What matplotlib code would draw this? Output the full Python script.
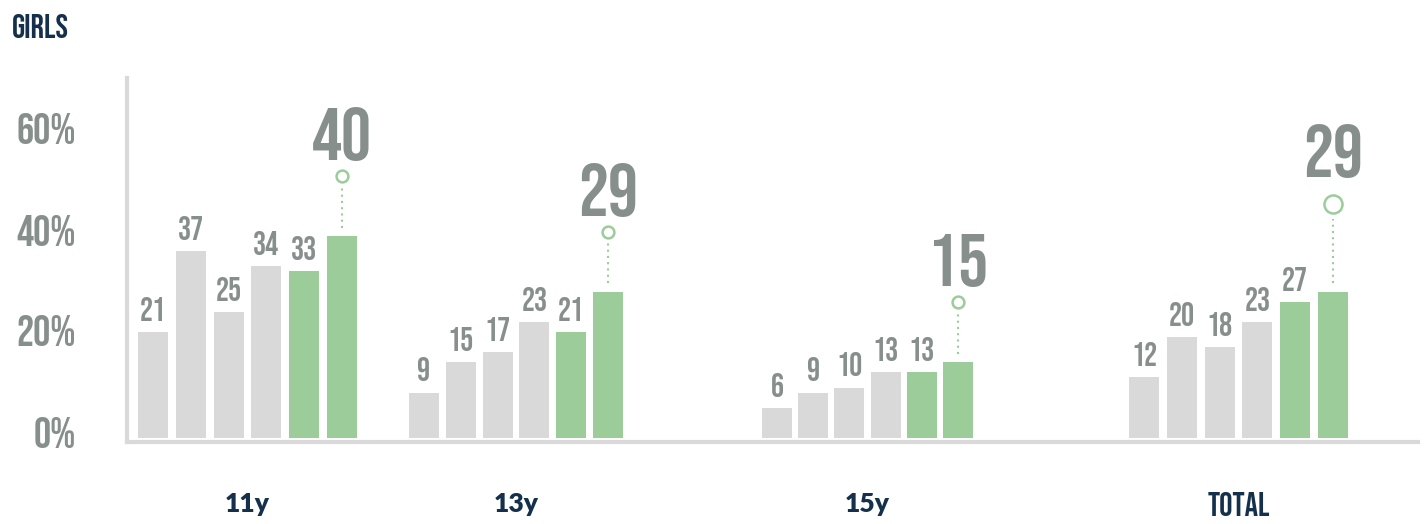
import matplotlib.pyplot as plt
import matplotlib.transforms as mtransforms
import numpy as np

groups = ['11y', '13y', '15y', 'TOTAL']
values = [
    [21, 37, 25, 34, 33, 40],
    [9, 15, 17, 23, 21, 29],
    [6, 9, 10, 13, 13, 15],
    [12, 20, 18, 23, 27, 29],
]
bar_colors = ['#d9d9d9'] * 4 + ['#9ccc9a'] * 2

GRAY_TXT = '#878f8d'
NAVY = '#14304a'
GREEN = '#9ccc9a'
COND = ['Bebas Neue', 'Oswald', 'Barlow Condensed', 'DejaVu Sans']
ROUND = ['Lato', 'DejaVu Sans']

W, H = 1426, 524
fig = plt.figure(figsize=(W / 100, H / 100), dpi=100)
ax = fig.add_axes([127 / W, (H - 442) / H, (1418 - 127) / W, (442 - 78) / H])

# x axis in pixel-ish units so group spacing follows the original layout
group_start = [153, 424, 777, 1144]
step = [37.8, 36.8, 36.2, 37.8]
px_per_pct = 5.05

centers = []
for g, vals in enumerate(values):
    xs = group_start[g] + step[g] * np.arange(len(vals))
    centers.append(xs.mean())
    ax.bar(xs, vals, width=30, color=bar_colors, zorder=2)
    for x, v in zip(xs[:-1], vals[:-1]):
        ax.annotate(str(v), (x, v), xytext=(0, 8), textcoords='offset points',
                    ha='center', va='baseline', fontsize=23.5,
                    color=GRAY_TXT, family=COND)
    # highlight last bar
    x, v = xs[-1], vals[-1]
    big = g == len(values) - 1
    circ_off = (88 if big else 60) / px_per_pct
    cy = v + circ_off
    ax.plot([x, x], [v + 1.6, cy - (3.0 if big else 2.0)], color=GREEN, lw=1.5,
            ls=(0, (1, 2)), zorder=1)
    ax.plot(x, cy, 'o', ms=13 if big else 8.5, mfc='white', mec=GREEN, mew=1.8, zorder=3)
    ax.text(x, cy + (27 if big else 16) / px_per_pct, str(v), ha='center', va='baseline',
            fontsize=54, color=GRAY_TXT, family=COND)

ax.set_xlim(127, 1418)
ax.set_ylim(-(442 - 438) / px_per_pct, (438 - 78) / px_per_pct)

for s in ['top', 'right']:
    ax.spines[s].set_visible(False)
for s in ['left', 'bottom']:
    ax.spines[s].set_color('#d9d9d9')
    ax.spines[s].set_linewidth(3)

ax.set_yticks([0, 20, 40, 60])
ax.set_yticklabels(['0%', '20%', '40%', '60%'])
ax.tick_params(axis='y', length=0, pad=37, labelcolor=GRAY_TXT)
shift_up = mtransforms.ScaledTranslation(0, 6 / 100, fig.dpi_scale_trans)
for lab in ax.get_yticklabels():
    lab.set_family(COND)
    lab.set_fontsize(31)
    lab.set_transform(lab.get_transform() + shift_up)

ax.set_xticks(centers)
ax.set_xticklabels(groups)
ax.tick_params(axis='x', length=0, pad=36, labelcolor=NAVY)
for lab in ax.get_xticklabels():
    if lab.get_text() == 'TOTAL':
        lab.set_family(COND)
        lab.set_fontsize(24)
    else:
        lab.set_family(ROUND)
        lab.set_fontsize(19)
        lab.set_fontweight('heavy')

fig.text(12 / W, 1 - 26 / H, 'GIRLS', ha='left', va='center', fontsize=24,
         color=NAVY, family=COND)

fig.savefig('out.png', dpi=100)
